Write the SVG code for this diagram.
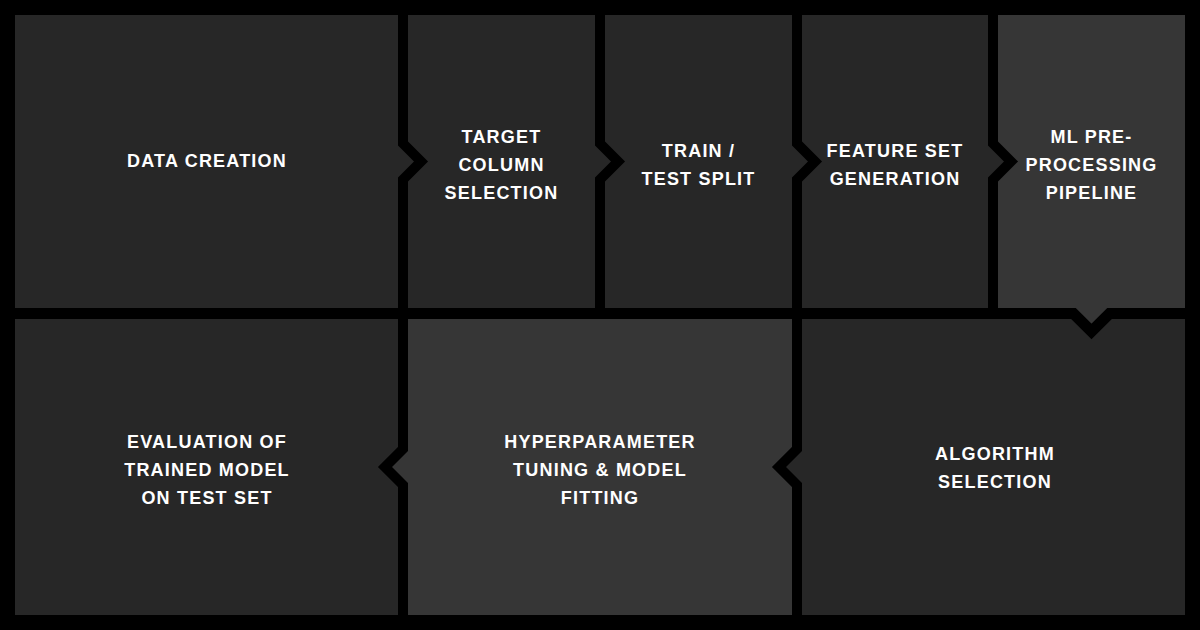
<svg xmlns="http://www.w3.org/2000/svg" width="1200" height="630" viewBox="0 0 1200 630">
<style>
.box{fill:#272727}
.hi{fill:#363636}
.gap{fill:none;stroke:#000;stroke-width:10;stroke-linejoin:miter;stroke-miterlimit:10}
.lbl{font-family:"Liberation Sans",Arial,sans-serif;font-weight:700;font-size:18px;fill:#fff;text-anchor:middle;letter-spacing:1.2px}
</style>
<rect width="1200" height="630" fill="#000"/>
<g id="n1">
<polygon class="box" points="15,15 403,15 403,143.5 421,161.5 403,179.5 403,313.5 15,313.5"/>
<text class="lbl" x="207" y="167">DATA CREATION</text>
</g>
<g id="n2">
<polygon class="box" points="403,15 600,15 600,143.5 618,161.5 600,179.5 600,313.5 403,313.5 403,179.5 421,161.5 403,143.5"/>
<text class="lbl" x="501.5" y="143">TARGET</text>
<text class="lbl" x="501.5" y="171">COLUMN</text>
<text class="lbl" x="501.5" y="199">SELECTION</text>
</g>
<g id="n3">
<polygon class="box" points="600,15 797,15 797,143.5 815,161.5 797,179.5 797,313.5 600,313.5 600,179.5 618,161.5 600,143.5"/>
<text class="lbl" x="698.5" y="157">TRAIN /</text>
<text class="lbl" x="698.5" y="185">TEST SPLIT</text>
</g>
<g id="n4">
<polygon class="box" points="797,15 993,15 993,143.5 1011,161.5 993,179.5 993,313.5 797,313.5 797,179.5 815,161.5 797,143.5"/>
<text class="lbl" x="895" y="157">FEATURE SET</text>
<text class="lbl" x="895" y="185">GENERATION</text>
</g>
<g id="n5">
<polygon class="hi" points="993,15 1185,15 1185,313.5 1109.5,313.5 1091.5,331.5 1073.5,313.5 993,313.5 993,179.5 1011,161.5 993,143.5"/>
<text class="lbl" x="1091.5" y="143">ML PRE-</text>
<text class="lbl" x="1091.5" y="171">PROCESSING</text>
<text class="lbl" x="1091.5" y="199">PIPELINE</text>
</g>
<g id="n6">
<polygon class="box" points="797,313.5 1073.5,313.5 1091.5,331.5 1109.5,313.5 1185,313.5 1185,615 797,615 797,485 779,467 797,449"/>
<text class="lbl" x="995" y="459.5">ALGORITHM</text>
<text class="lbl" x="995" y="487.5">SELECTION</text>
</g>
<g id="n7">
<polygon class="hi" points="403,313.5 797,313.5 797,449 779,467 797,485 797,615 403,615 403,485 385,467 403,449"/>
<text class="lbl" x="600" y="447.5">HYPERPARAMETER</text>
<text class="lbl" x="600" y="475.5">TUNING &amp; MODEL</text>
<text class="lbl" x="600" y="503.5">FITTING</text>
</g>
<g id="n8">
<polygon class="box" points="15,313.5 403,313.5 403,449 385,467 403,485 403,615 15,615"/>
<text class="lbl" x="207" y="447.5">EVALUATION OF</text>
<text class="lbl" x="207" y="475.5">TRAINED MODEL</text>
<text class="lbl" x="207" y="503.5">ON TEST SET</text>
</g>
<g id="connectors">
<polyline class="gap" points="403,10 403,143.5 421,161.5 403,179.5 403,318"/>
<polyline class="gap" points="600,10 600,143.5 618,161.5 600,179.5 600,318"/>
<polyline class="gap" points="797,10 797,143.5 815,161.5 797,179.5 797,318"/>
<polyline class="gap" points="993,10 993,143.5 1011,161.5 993,179.5 993,318"/>
<polyline class="gap" style="stroke-width:11" points="10,313.5 1073.5,313.5 1091.5,331.5 1109.5,313.5 1190,313.5"/>
<polyline class="gap" points="403,310 403,449 385,467 403,485 403,620"/>
<polyline class="gap" points="797,310 797,449 779,467 797,485 797,620"/>
</g>
</svg>
